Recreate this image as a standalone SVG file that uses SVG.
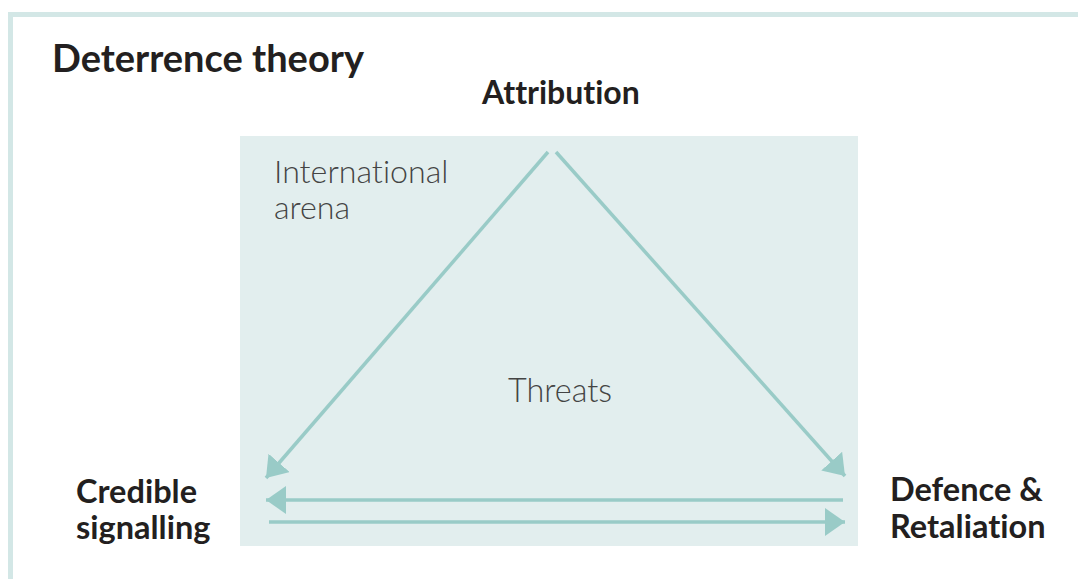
<svg xmlns="http://www.w3.org/2000/svg" width="1078" height="579" viewBox="0 0 1078 579">
  <defs>
    <style>
      .frame { fill: none; stroke: #d3e7e6; stroke-width: 5; }
      .arena { fill: #e2eeee; }
      .link { stroke: #99cbc7; stroke-width: 3.5; fill: none; }
      .head { fill: #99cbc7; }
      text { font-variant-ligatures: none; }
      .bold { font-family: Lato, "Liberation Sans", sans-serif; font-weight: 700; fill: #231f20; }
      .light { font-family: Lato, "Liberation Sans", sans-serif; font-weight: 300; fill: #444444; }
    </style>
    <marker id="arrow" viewBox="0 0 20 28" refX="20" refY="14" markerWidth="20" markerHeight="28" markerUnits="userSpaceOnUse" orient="auto">
      <path class="head" d="M0,0 L20,14 L0,28 Z"/>
    </marker>
  </defs>

  <rect width="1078" height="579" fill="#ffffff"/>

  <!-- outer frame: top and left edges -->
  <path class="frame" d="M10.5,579 L10.5,14.5 L1078,14.5"/>

  <text class="bold" x="52" y="72" font-size="38">Deterrence theory</text>

  <!-- shaded arena -->
  <rect id="arena" class="arena" x="240" y="136" width="618" height="410"/>

  <g id="connectors">
    <line class="link" x1="548" y1="152" x2="266" y2="478" marker-end="url(#arrow)"/>
    <line class="link" x1="556" y1="152" x2="845" y2="476" marker-end="url(#arrow)"/>
    <line class="link" x1="843" y1="500" x2="266" y2="500" marker-end="url(#arrow)"/>
    <line class="link" x1="269" y1="522" x2="845" y2="522" marker-end="url(#arrow)"/>
  </g>

  <g id="attribution">
    <text class="bold" x="482" y="104" font-size="32">Attribution</text>
  </g>

  <g id="international-arena">
    <text class="light" x="274" y="183" font-size="32.2">International</text>
    <text class="light" x="274" y="219" font-size="32.2">arena</text>
  </g>

  <g id="threats">
    <text class="light" x="508" y="402" font-size="32.4">Threats</text>
  </g>

  <g id="credible-signalling">
    <text class="bold" x="76" y="503" font-size="32.5">Credible</text>
    <text class="bold" x="76" y="539" font-size="32.5">signalling</text>
  </g>

  <g id="defence-retaliation">
    <text class="bold" x="890" y="501" font-size="32.5">Defence &amp;</text>
    <text class="bold" x="890" y="538" font-size="32.5">Retaliation</text>
  </g>
</svg>
